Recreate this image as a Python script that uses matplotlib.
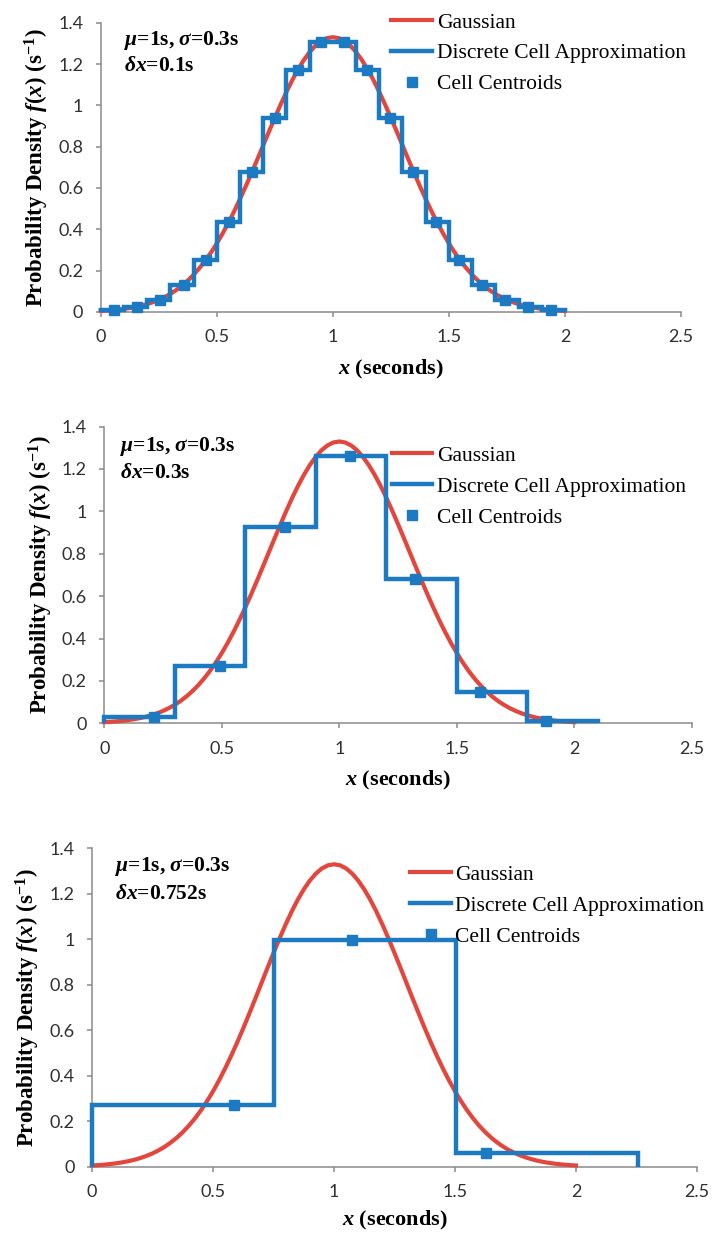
import numpy as np
import matplotlib.pyplot as plt
from matplotlib.ticker import MultipleLocator, FuncFormatter

plt.rcParams['font.family'] = 'Liberation Serif'
plt.rcParams['mathtext.fontset'] = 'custom'
plt.rcParams['mathtext.rm'] = 'Liberation Serif:bold'
plt.rcParams['mathtext.it'] = 'Liberation Serif:italic:bold'
plt.rcParams['mathtext.bf'] = 'Liberation Serif:bold'

RED = '#E2463C'
BLUE = '#1B7AC2'
AXIS = '#8A8A8A'
TICKFONT = 'Lato'

# Gaussian pdf, mu = 1 s, sigma = 0.3 s, sampled every 0.025 s
gauss_x = [0.000, 0.025, 0.050, 0.075, 0.100, 0.125, 0.150, 0.175, 0.200, 0.225,
           0.250, 0.275, 0.300, 0.325, 0.350, 0.375, 0.400, 0.425, 0.450, 0.475,
           0.500, 0.525, 0.550, 0.575, 0.600, 0.625, 0.650, 0.675, 0.700, 0.725,
           0.750, 0.775, 0.800, 0.825, 0.850, 0.875, 0.900, 0.925, 0.950, 0.975,
           1.000, 1.025, 1.050, 1.075, 1.100, 1.125, 1.150, 1.175, 1.200, 1.225,
           1.250, 1.275, 1.300, 1.325, 1.350, 1.375, 1.400, 1.425, 1.450, 1.475,
           1.500, 1.525, 1.550, 1.575, 1.600, 1.625, 1.650, 1.675, 1.700, 1.725,
           1.750, 1.775, 1.800, 1.825, 1.850, 1.875, 1.900, 1.925, 1.950, 1.975, 2.000]
gauss_y = [0.0051, 0.0068, 0.0088, 0.0115, 0.0148, 0.0189, 0.0240, 0.0303, 0.0380, 0.0473,
           0.0584, 0.0717, 0.0874, 0.1058, 0.1272, 0.1518, 0.1800, 0.2119, 0.2477, 0.2876,
           0.3316, 0.3797, 0.4317, 0.4875, 0.5467, 0.6088, 0.6734, 0.7395, 0.8066, 0.8736,
           0.9397, 1.0038, 1.0648, 1.1217, 1.1736, 1.2192, 1.2579, 1.2889, 1.3115, 1.3252,
           1.3298, 1.3252, 1.3115, 1.2889, 1.2579, 1.2192, 1.1736, 1.1217, 1.0648, 1.0038,
           0.9397, 0.8736, 0.8066, 0.7395, 0.6734, 0.6088, 0.5467, 0.4875, 0.4317, 0.3797,
           0.3316, 0.2876, 0.2477, 0.2119, 0.1800, 0.1518, 0.1272, 0.1058, 0.0874, 0.0717,
           0.0584, 0.0473, 0.0380, 0.0303, 0.0240, 0.0189, 0.0148, 0.0115, 0.0088, 0.0068, 0.0051]

# dx = 0.1 s
edges_01 = [0.0, 0.1, 0.2, 0.3, 0.4, 0.5, 0.6, 0.7, 0.8, 0.9, 1.0,
            1.1, 1.2, 1.3, 1.4, 1.5, 1.6, 1.7, 1.8, 1.9, 2.0]
dens_01 = [0.009, 0.025, 0.060, 0.129, 0.250, 0.434, 0.675, 0.940, 1.170, 1.308,
           1.308, 1.170, 0.940, 0.675, 0.434, 0.250, 0.129, 0.060, 0.025, 0.009]
cent_01 = [0.059, 0.158, 0.257, 0.357, 0.455, 0.554, 0.653, 0.752, 0.851, 0.951,
           1.049, 1.149, 1.248, 1.347, 1.446, 1.545, 1.643, 1.743, 1.842, 1.941]

# dx = 0.3 s
edges_03 = [0.0, 0.3, 0.6, 0.9, 1.2, 1.5, 1.8, 2.1]
dens_03 = [0.031, 0.271, 0.927, 1.260, 0.682, 0.147, 0.012]
cent_03 = [0.212, 0.492, 0.770, 1.046, 1.322, 1.600, 1.881]

# dx = 0.752 s
edges_0752 = [0.0, 0.752, 1.504, 2.256]
dens_0752 = [0.271, 0.997, 0.062]
cent_0752 = [0.585, 1.075, 1.627]

dx_labels = ['0.1s', '0.3s', '0.752s']
edges_all = [edges_01, edges_03, edges_0752]
dens_all = [dens_01, dens_03, dens_0752]
cent_all = [cent_01, cent_03, cent_0752]

# layout per panel: axes rect, annotation x / line y's, legend anchor, xlabel pad
rects = [
    [0.1401, 0.7470, 0.8071, 0.2346],
    [0.1451, 0.4134, 0.8170, 0.2406],
    [0.1280, 0.0538, 0.8414, 0.2582],
]
note_pos = [(0.040, 0.939, 0.849), (0.027, 0.933, 0.842), (0.038, 0.943, 0.858)]
legend_pos = [(0.501, 1.035), (0.489, 0.935), (0.526, 0.948)]
xlabel_pad = [9, 9, 6]

fig = plt.figure(figsize=(7.19, 12.33), dpi=100)
fmt = FuncFormatter(lambda v, p: f'{v:g}')

for i in range(3):
    ax = fig.add_axes(rects[i])
    ax.plot(gauss_x, gauss_y, color=RED, lw=3.0, solid_joinstyle='round',
            label='Gaussian', clip_on=False, zorder=3)
    ax.stairs(dens_all[i], edges_all[i], baseline=0, color=BLUE, lw=3.2,
              label='Discrete Cell Approximation', clip_on=False, zorder=4)
    ax.plot(cent_all[i], dens_all[i], ls='none', marker='s', ms=7, color=BLUE,
            label='Cell Centroids', clip_on=False, zorder=5)

    ax.set_xlim(0, 2.5)
    ax.set_ylim(0, 1.4)
    ax.xaxis.set_major_locator(MultipleLocator(0.5))
    ax.yaxis.set_major_locator(MultipleLocator(0.2))
    ax.xaxis.set_major_formatter(fmt)
    ax.yaxis.set_major_formatter(fmt)

    for side in ('top', 'right'):
        ax.spines[side].set_visible(False)
    for side in ('left', 'bottom'):
        ax.spines[side].set_color(AXIS)
        ax.spines[side].set_linewidth(1.1)
    ax.tick_params(direction='out', length=3.6, width=1.1, color=AXIS,
                   labelcolor='#303030', labelsize=13, pad=9)
    for lab in ax.get_xticklabels() + ax.get_yticklabels():
        lab.set_fontfamily(TICKFONT)

    ax.set_xlabel(r'$x$ (seconds)', fontsize=16, fontweight='bold',
                  labelpad=xlabel_pad[i])
    ax.set_ylabel(r'Probability Density $f$($x$) (s$^{-1}$)', fontsize=16.5,
                  fontweight='bold', labelpad=5)

    nx, ny1, ny2 = note_pos[i]
    ax.text(nx, ny1, r'$\mu$=1s, $\sigma$=0.3s', transform=ax.transAxes,
            fontsize=15.5, fontweight='bold', va='center', ha='left')
    ax.text(nx, ny2, r'$\delta x$=' + dx_labels[i], transform=ax.transAxes,
            fontsize=15.5, fontweight='bold', va='center', ha='left')

    ax.legend(loc='upper left', bbox_to_anchor=legend_pos[i], frameon=False,
              prop={'size': 15.5}, handlelength=1.9, handletextpad=0.2,
              labelspacing=0.5, borderpad=0, borderaxespad=0, numpoints=1)

fig.savefig('out.png', dpi=100)
